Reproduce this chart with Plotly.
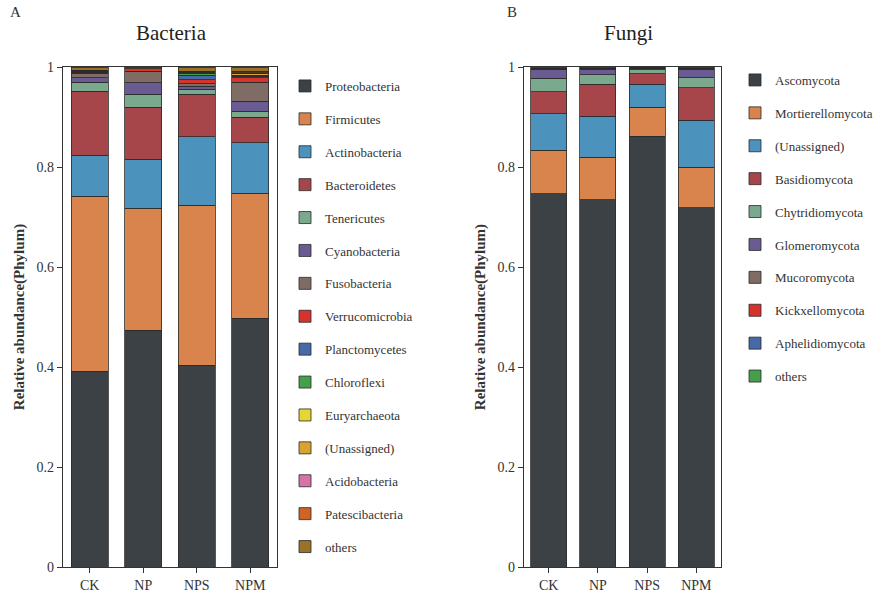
import plotly.graph_objects as go

groups = ["CK", "NP", "NPS", "NPM"]

bac_names = ["Proteobacteria", "Firmicutes", "Actinobacteria", "Bacteroidetes", "Tenericutes",
             "Cyanobacteria", "Fusobacteria", "Verrucomicrobia", "Planctomycetes", "Chloroflexi",
             "Euryarchaeota", "(Unassigned)", "Acidobacteria", "Patescibacteria", "others"]
Proteobacteria = [0.392, 0.474, 0.404, 0.498]
Firmicutes = [0.350, 0.244, 0.320, 0.250]
Actinobacteria = [0.082, 0.098, 0.137, 0.101]
Bacteroidetes = [0.128, 0.104, 0.085, 0.051]
Tenericutes = [0.018, 0.026, 0.010, 0.012]
Cyanobacteria = [0.009, 0.023, 0.006, 0.020]
Fusobacteria = [0.009, 0.023, 0.005, 0.038]
Verrucomicrobia = [0.002, 0.005, 0.008, 0.009]
Planctomycetes = [0.001, 0.000, 0.009, 0.003]
Chloroflexi = [0.001, 0.000, 0.004, 0.001]
Euryarchaeota = [0.001, 0.000, 0.001, 0.001]
Unassigned_b = [0.001, 0.000, 0.001, 0.004]
Acidobacteria = [0.000, 0.000, 0.001, 0.001]
Patescibacteria = [0.000, 0.000, 0.001, 0.003]
others_b = [0.006, 0.003, 0.008, 0.008]
bac_values = [Proteobacteria, Firmicutes, Actinobacteria, Bacteroidetes, Tenericutes,
              Cyanobacteria, Fusobacteria, Verrucomicrobia, Planctomycetes, Chloroflexi,
              Euryarchaeota, Unassigned_b, Acidobacteria, Patescibacteria, others_b]
bac_colors = ["#3c4145", "#d8844c", "#4b93bd", "#a6464b", "#7aa98d", "#6a5b93", "#7f6c64",
              "#d7332d", "#4669a8", "#46a04a", "#e6d634", "#d9a232", "#d873a8", "#cf6425", "#9a7229"]

fun_names = ["Ascomycota", "Mortierellomycota", "(Unassigned)", "Basidiomycota", "Chytridiomycota",
             "Glomeromycota", "Mucoromycota", "Kickxellomycota", "Aphelidiomycota", "others"]
Ascomycota = [0.747, 0.735, 0.862, 0.719]
Mortierellomycota = [0.087, 0.085, 0.058, 0.081]
Unassigned_f = [0.073, 0.082, 0.046, 0.094]
Basidiomycota = [0.044, 0.064, 0.021, 0.065]
Chytridiomycota = [0.027, 0.019, 0.008, 0.020]
Glomeromycota = [0.018, 0.011, 0.003, 0.017]
Mucoromycota = [0.002, 0.002, 0.001, 0.002]
Kickxellomycota = [0.000, 0.000, 0.000, 0.000]
Aphelidiomycota = [0.000, 0.000, 0.000, 0.000]
others_f = [0.002, 0.002, 0.001, 0.002]
fun_values = [Ascomycota, Mortierellomycota, Unassigned_f, Basidiomycota, Chytridiomycota,
              Glomeromycota, Mucoromycota, Kickxellomycota, Aphelidiomycota, others_f]
fun_colors = ["#3c4145", "#d8844c", "#4b93bd", "#a6464b", "#7aa98d", "#6a5b93", "#7f6c64",
              "#d7332d", "#4669a8", "#46a04a"]

FONT = "Liberation Serif, Times New Roman, serif"
TXT = "#333333"

fig = go.Figure()
for i, (n, v, c) in enumerate(zip(bac_names, bac_values, bac_colors)):
    fig.add_trace(go.Bar(x=groups, y=v, name=n, marker=dict(color=c, line=dict(color="#2a2a2a", width=0.8)),
                         xaxis="x", yaxis="y", legend="legend", legendgroup="b%d" % i, width=0.69))
for i, (n, v, c) in enumerate(zip(fun_names, fun_values, fun_colors)):
    fig.add_trace(go.Bar(x=groups, y=v, name=n, marker=dict(color=c, line=dict(color="#2a2a2a", width=0.8)),
                         xaxis="x2", yaxis="y2", legend="legend2", legendgroup="f%d" % i, width=0.73))

W, H = 886, 593
def px(x):
    return x / W
def py(y):
    return 1 - y / H

axis_common = dict(showline=True, linecolor="#333333", linewidth=1.2, mirror=True, ticks="outside",
                   ticklen=5, tickcolor="#333333", showgrid=False, zeroline=False, automargin=False,
                   tickfont=dict(family=FONT, size=14, color=TXT))
ycommon = dict(axis_common, range=[0, 1], tickvals=[0, 0.2, 0.4, 0.6, 0.8, 1],
               ticktext=["0", "0.2", "0.4", "0.6", "0.8", "1"],
               title=dict(text="<b>Relative abundance(Phylum)</b>", font=dict(family=FONT, size=15, color=TXT), standoff=8))

fig.update_layout(
    width=W, height=H, margin=dict(l=0, r=0, t=0, b=0, autoexpand=False),
    paper_bgcolor="white", plot_bgcolor="white",
    barmode="stack",
    font=dict(family=FONT, color=TXT),
    xaxis=dict(axis_common, domain=[px(63), px(277)], anchor="y"),
    yaxis=dict(ycommon, domain=[py(567), py(67)], anchor="x"),
    xaxis2=dict(axis_common, domain=[px(524), px(721)], anchor="y2"),
    yaxis2=dict(ycommon, domain=[py(567), py(67)], anchor="x2"),
    legend=dict(x=px(285), y=py(71), xanchor="left", yanchor="top", tracegroupgap=13,
                font=dict(family=FONT, size=13, color=TXT), bgcolor="rgba(0,0,0,0)", traceorder="grouped"),
    legend2=dict(x=px(735), y=py(65), xanchor="left", yanchor="top", tracegroupgap=13,
                 font=dict(family=FONT, size=13, color=TXT), bgcolor="rgba(0,0,0,0)", traceorder="grouped"),
    annotations=[
        dict(text="A", x=px(8), y=py(12), xref="paper", yref="paper", showarrow=False,
             xanchor="left", yanchor="middle", font=dict(family=FONT, size=15, color=TXT)),
        dict(text="B", x=px(505), y=py(12), xref="paper", yref="paper", showarrow=False,
             xanchor="left", yanchor="middle", font=dict(family=FONT, size=15, color=TXT)),
        dict(text="Bacteria", x=px(171), y=py(33), xref="paper", yref="paper", showarrow=False,
             xanchor="center", yanchor="middle", font=dict(family=FONT, size=21, color="#222222")),
        dict(text="Fungi", x=px(628), y=py(33), xref="paper", yref="paper", showarrow=False,
             xanchor="center", yanchor="middle", font=dict(family=FONT, size=21, color="#222222")),
    ],
)

fig.write_html("out.html")
